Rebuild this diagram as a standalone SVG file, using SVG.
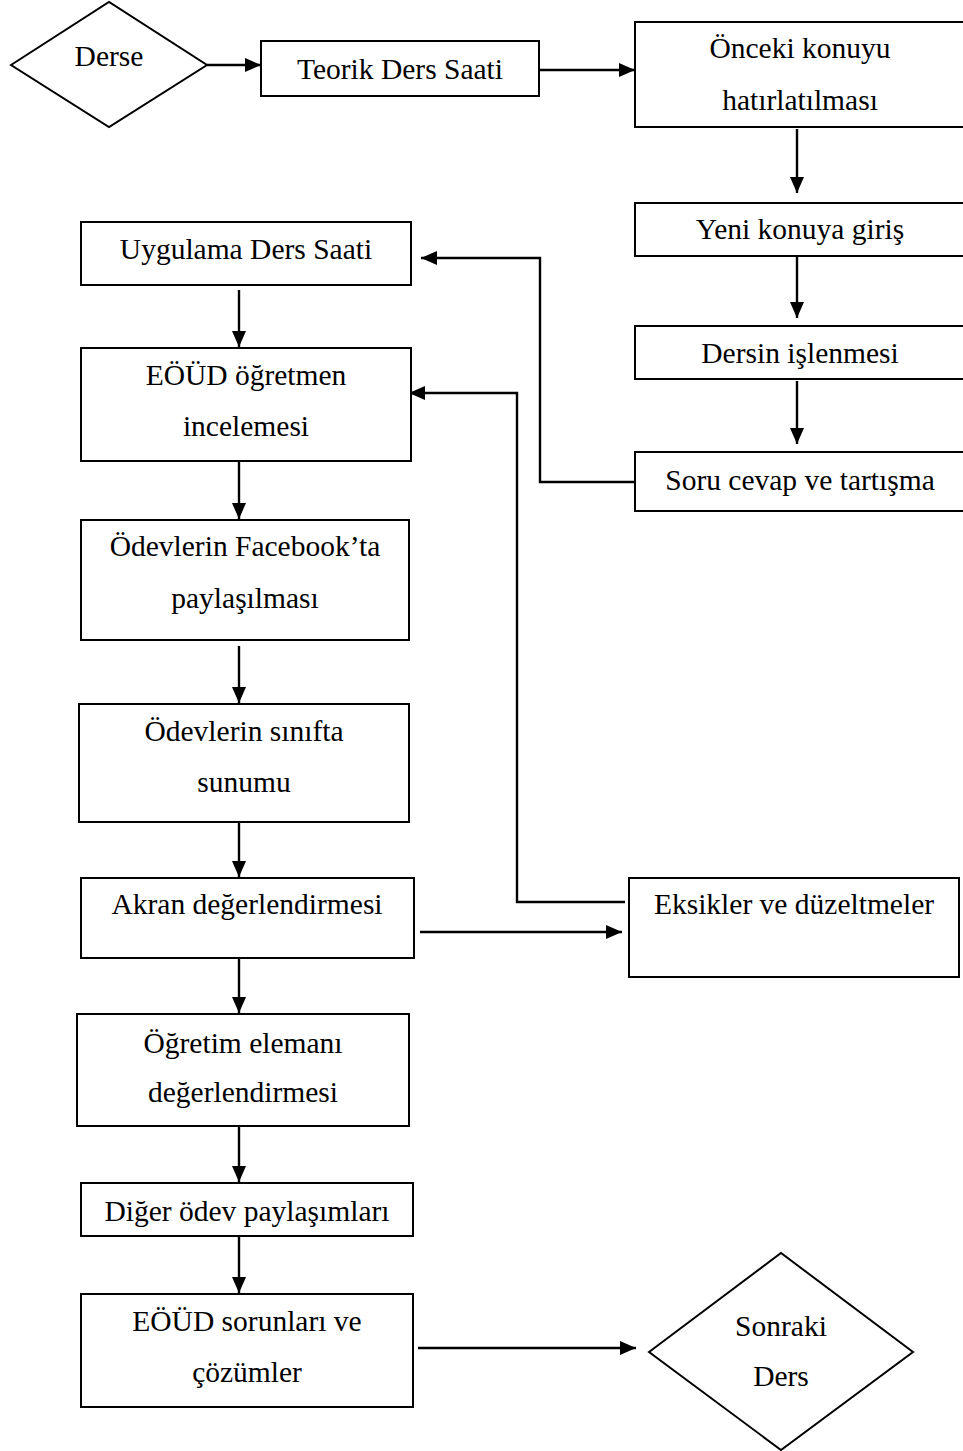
<svg xmlns="http://www.w3.org/2000/svg" width="963" height="1451" viewBox="0 0 963 1451">
<style>
.box{fill:#fff;stroke:#000;stroke-width:2}
.t{font-family:"Liberation Serif","Times New Roman",serif;font-size:29.5px;fill:#000;text-anchor:middle}
.c{fill:none;stroke:#000;stroke-width:2.4}
</style>
<defs>
<marker id="ah" viewBox="0 0 16 14" refX="16" refY="7" markerWidth="16" markerHeight="14" markerUnits="userSpaceOnUse" orient="auto">
<path d="M0,0 L16,7 L0,14 z" fill="#000"/>
</marker>
</defs>
<rect width="963" height="1451" fill="#fff"/>
<g id="connectors">
<path class="c" d="M207,65 H261" marker-end="url(#ah)"/>
<path class="c" d="M539,70 H635" marker-end="url(#ah)"/>
<path class="c" d="M797,129 V193" marker-end="url(#ah)"/>
<path class="c" d="M797,257 V318" marker-end="url(#ah)"/>
<path class="c" d="M797,381 V444" marker-end="url(#ah)"/>
<path class="c" d="M635,482 H540 V258 H421" marker-end="url(#ah)"/>
<path class="c" d="M239,290 V347" marker-end="url(#ah)"/>
<path class="c" d="M625,902 H517 V393 H409" marker-end="url(#ah)"/>
<path class="c" d="M239,462 V519" marker-end="url(#ah)"/>
<path class="c" d="M239,646 V703" marker-end="url(#ah)"/>
<path class="c" d="M239,822 V877" marker-end="url(#ah)"/>
<path class="c" d="M420,932 H622" marker-end="url(#ah)"/>
<path class="c" d="M239,958 V1013" marker-end="url(#ah)"/>
<path class="c" d="M239,1126 V1182" marker-end="url(#ah)"/>
<path class="c" d="M239,1236 V1293" marker-end="url(#ah)"/>
<path class="c" d="M418,1348 H636" marker-end="url(#ah)"/>
</g>
<g id="derse">
<polygon class="box" points="11,65 109,2 207,65 109,127"/>
<text class="t" x="109" y="66">Derse</text>
</g>
<g id="teorik">
<rect class="box" x="261" y="41" width="278" height="55"/>
<text class="t" x="400" y="79">Teorik Ders Saati</text>
</g>
<g id="onceki">
<rect class="box" x="635" y="22" width="330" height="105"/>
<text class="t" x="800" y="58">Önceki konuyu</text>
<text class="t" x="800" y="110">hatırlatılması</text>
</g>
<g id="yeni">
<rect class="box" x="635" y="203" width="330" height="53"/>
<text class="t" x="800" y="239">Yeni konuya giriş</text>
</g>
<g id="dersin">
<rect class="box" x="635" y="326" width="330" height="53"/>
<text class="t" x="800" y="363">Dersin işlenmesi</text>
</g>
<g id="soru">
<rect class="box" x="635" y="452" width="330" height="59"/>
<text class="t" x="800" y="490">Soru cevap ve tartışma</text>
</g>
<g id="uygulama">
<rect class="box" x="81" y="222" width="330" height="63"/>
<text class="t" x="246" y="259">Uygulama Ders Saati</text>
</g>
<g id="eoud">
<rect class="box" x="81" y="348" width="330" height="113"/>
<text class="t" x="246" y="385">EÖÜD öğretmen</text>
<text class="t" x="246" y="436">incelemesi</text>
</g>
<g id="facebook">
<rect class="box" x="81" y="520" width="328" height="120"/>
<text class="t" x="245" y="556">Ödevlerin Facebook’ta</text>
<text class="t" x="245" y="608">paylaşılması</text>
</g>
<g id="sinifta">
<rect class="box" x="79" y="704" width="330" height="118"/>
<text class="t" x="244" y="741">Ödevlerin sınıfta</text>
<text class="t" x="244" y="792">sunumu</text>
</g>
<g id="akran">
<rect class="box" x="81" y="878" width="333" height="80"/>
<text class="t" x="247" y="914">Akran değerlendirmesi</text>
</g>
<g id="eksikler">
<rect class="box" x="629" y="878" width="330" height="99"/>
<text class="t" x="794" y="914">Eksikler ve düzeltmeler</text>
</g>
<g id="ogretim">
<rect class="box" x="77" y="1014" width="332" height="112"/>
<text class="t" x="243" y="1053">Öğretim elemanı</text>
<text class="t" x="243" y="1102">değerlendirmesi</text>
</g>
<g id="diger">
<rect class="box" x="81" y="1183" width="332" height="53"/>
<text class="t" x="247" y="1221">Diğer ödev paylaşımları</text>
</g>
<g id="sorunlar">
<rect class="box" x="81" y="1294" width="332" height="113"/>
<text class="t" x="247" y="1331">EÖÜD sorunları ve</text>
<text class="t" x="247" y="1382">çözümler</text>
</g>
<g id="sonraki">
<polygon class="box" points="649,1352 781,1253 913,1352 781,1450"/>
<text class="t" x="781" y="1336">Sonraki</text>
<text class="t" x="781" y="1386">Ders</text>
</g>
</svg>
